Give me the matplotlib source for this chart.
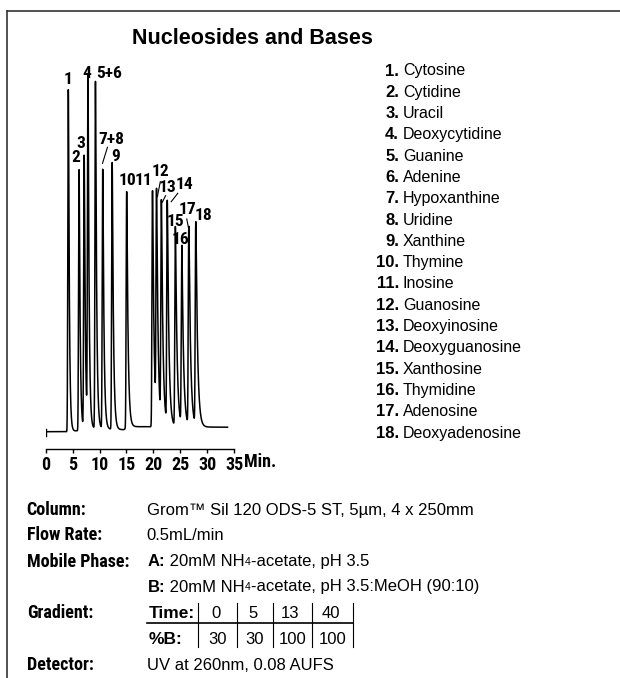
import math
import numpy as np
import matplotlib
matplotlib.use('Agg')
import matplotlib.pyplot as plt
from matplotlib import font_manager as fm

peak_labels = ['1', '2', '3', '4', '5+6', '7+8', '9', '10', '11',
               '12', '13', '14', '15', '16', '17', '18']
peak_times = [4.2, 6.2, 7.15, 7.85, 9.25, 10.6, 12.35, 15.05, 19.85,
              20.6, 21.5, 22.6, 24.1, 25.3, 26.6, 27.9]
peak_heights = [342, 262, 275, 350, 350, 262, 269, 240, 241,
                228, 223, 227, 204, 183, 203, 207]
baseline_times = [0, 4.0, 6.0, 9.0, 14.5, 15.5, 20.0, 33.8]
baseline_levels = [0, 0, 1, 3, 2, 5, 5, 4.5]
time_ticks = [0, 5, 10, 15, 20, 25, 30, 35]

compounds = ['Cytosine', 'Cytidine', 'Uracil', 'Deoxycytidine', 'Guanine',
             'Adenine', 'Hypoxanthine', 'Uridine', 'Xanthine', 'Thymine',
             'Inosine', 'Guanosine', 'Deoxyinosine', 'Deoxyguanosine',
             'Xanthosine', 'Thymidine', 'Adenosine', 'Deoxyadenosine']

grad_time = ['0', '5', '13', '40']
grad_b = ['30', '30', '100', '100']

W, H = 620, 678
plt.rcParams['font.family'] = ['Liberation Sans', 'DejaVu Sans']

# fonte condensada em negrito, se houver alguma instalada
bold_ok = {f.name for f in fm.fontManager.ttflist if f.weight in (700, 'bold')}
COND = 'Liberation Sans'
for cand in ['Roboto Condensed', 'Archivo Narrow', 'Fira Sans Condensed',
             'IBM Plex Sans Condensed', 'PT Sans Narrow', 'Liberation Sans Narrow',
             'Encode Sans Condensed', 'Asap Condensed', 'Barlow Semi Condensed']:
    if cand in bold_ok:
        COND = cand
        break
CF = [COND, 'Liberation Sans', 'DejaVu Sans']

fig = plt.figure(figsize=(W / 100, H / 100), dpi=100)

# camada de fundo em coordenadas de pixel (origem no topo)
bg = fig.add_axes([0, 0, 1, 1])
bg.set_xlim(0, W)
bg.set_ylim(H, 0)
bg.axis('off')

# moldura (topo e lado esquerdo)
bg.plot([7, W], [10.5, 10.5], color='#333333', lw=1.2)
bg.plot([7, 7], [10.5, H], color='#333333', lw=1.2)

bg.text(252, 38, 'Nucleosides and Bases', ha='center', va='center',
        fontsize=15.5, fontweight='bold')

# --- cromatograma ---
x0, x1 = 45.7, 234.0      # px de t=0 e t=35
yz, yb = 431.7, 449.3     # px do zero do sinal e do eixo
ytop = 360
ax = fig.add_axes([x0 / W, (H - yb) / H, (x1 - x0) / W, (yb - (yz - ytop)) / H])
ax.set_xlim(0, 35)
ax.set_ylim(-(yb - yz), ytop)
ax.patch.set_alpha(0)
for s in ['top', 'right', 'left']:
    ax.spines[s].set_visible(False)
ax.spines['bottom'].set_linewidth(1.0)
ax.set_yticks([])
ax.set_xticks(time_ticks)
ax.set_xticklabels([str(v) for v in time_ticks], fontweight='bold',
                   fontsize=13, family=CF)
ax.tick_params(axis='x', direction='out', length=3, width=1.0, pad=2)

t = np.arange(0, 33.8, 0.004)
base = np.interp(t, baseline_times, baseline_levels)
sig = base.copy()
erfc = np.vectorize(math.erfc)


def emg(dt, s, tau):
    return 0.5 * np.exp(s * s / (2 * tau * tau) - dt / tau) * erfc((s / tau - dt / s) / math.sqrt(2))


for t0, h in zip(peak_times, peak_heights):
    s = 0.07
    tau = 0.14 + 0.006 * t0
    local = np.arange(-1, 6, 0.004)
    f = emg(local, s, tau)
    d = local[np.argmax(f)]
    m = (t > t0 - 1) & (t < t0 + 6)
    amp = h - np.interp(t0, baseline_times, baseline_levels)
    sig[m] += amp * emg(t[m] - t0 + d, s, tau) / f.max()

ax.plot(t, sig, color='black', lw=1.1, solid_joinstyle='round')
ax.plot([0, 0], [-4, 3], color='black', lw=1.0)

# rótulos dos picos (posições em min / px acima do zero)
label_pos = [(4.19, 351.7), (5.57, 273.7), (6.59, 288), (7.70, 357.7),
             (11.85, 357.7), (12.15, 292.4), (12.98, 275.4), (15.2, 251.2),
             (18.2, 251.2), (21.26, 260.7), (22.7, 244.2), (25.75, 247.2),
             (24.09, 210.7), (25.06, 191.7), (26.35, 221.7), (29.26, 216)]
for lab, (lx, ly) in zip(peak_labels, label_pos):
    ax.text(lx, ly, lab, ha='center', va='center', fontsize=12.5,
            fontweight='bold', family=CF, clip_on=False)

leaders = [((11.48, 284.4), (10.56, 268.4)), ((21.3, 250), (20.76, 235)),
           ((22.28, 236), (21.67, 229.4)), ((24.55, 238.4), (23.33, 230)),
           ((26.22, 212.7), (26.53, 204))]
for (ax_, ay_), (bx_, by_) in leaders:
    ax.plot([ax_, bx_], [ay_, by_], color='black', lw=0.8)

bg.text(244, 462, 'Min.', ha='left', va='center', fontsize=13,
        fontweight='bold', family=CF)

# --- legenda dos compostos ---
for i, name in enumerate(compounds):
    y = 71 + 21.3 * i
    bg.text(399, y, f'{i + 1}.', ha='right', va='center', fontsize=12,
            fontweight='bold')
    bg.text(403, y, name, ha='left', va='center', fontsize=11.5)

# --- condições ---
rows = [510, 535, 561.7, 587, 613, 640, 665]
lx, vx = 26.7, 146.7
fs = 12
fl = 13
for yy, lab in zip([rows[0], rows[1], rows[2], rows[4], rows[6]],
                   ['Column:', 'Flow Rate:', 'Mobile Phase:', 'Gradient:', 'Detector:']):
    bg.text(lx, yy, lab, va='center', fontsize=fl, fontweight='bold', family=CF)
bg.text(vx, rows[0], 'Grom\u2122 Sil 120 ODS-5 ST, 5\u00b5m, 4 x 250mm', va='center', fontsize=fs)
bg.text(vx, rows[1], '0.5mL/min', va='center', fontsize=fs)


def phase_line(y, tag, tail):
    a = bg.text(vx + 1, y, tag, va='center', fontsize=fs, fontweight='bold')
    b = bg.annotate(' 20mM NH', xy=(1, 0), xycoords=a, va='bottom', fontsize=fs)
    c = bg.annotate('4', xy=(1, 0), xycoords=b, xytext=(0, 1.5),
                    textcoords='offset points', va='bottom', fontsize=7.5)
    bg.annotate(tail, xy=(1, 0), xycoords=c, xytext=(0, -1.5),
                textcoords='offset points', va='bottom', fontsize=fs)


phase_line(rows[2], 'A:', '-acetate, pH 3.5')
phase_line(rows[3], 'B:', '-acetate, pH 3.5:MeOH (90:10)')

bg.text(148.3, rows[4], 'Time:', va='center', fontsize=12.5, fontweight='bold')
bg.text(148.3, rows[5], '%B:', va='center', fontsize=12.5, fontweight='bold')
seps = [198.3, 236.7, 273.3, 311.7, 353.3]
for sx in seps:
    bg.plot([sx, sx], [603, 647], color='black', lw=0.8)
bg.plot([146.7, 353.3], [622.7, 622.7], color='black', lw=1.2)
for k in range(4):
    cx = (seps[k] + seps[k + 1]) / 2
    bg.text(cx - 2, rows[4], grad_time[k], ha='center', va='center', fontsize=fs)
    bg.text(cx, rows[5], grad_b[k], ha='center', va='center', fontsize=fs)

bg.text(vx, rows[6], 'UV at 260nm, 0.08 AUFS', va='center', fontsize=fs)

fig.savefig('out.png', dpi=100)
